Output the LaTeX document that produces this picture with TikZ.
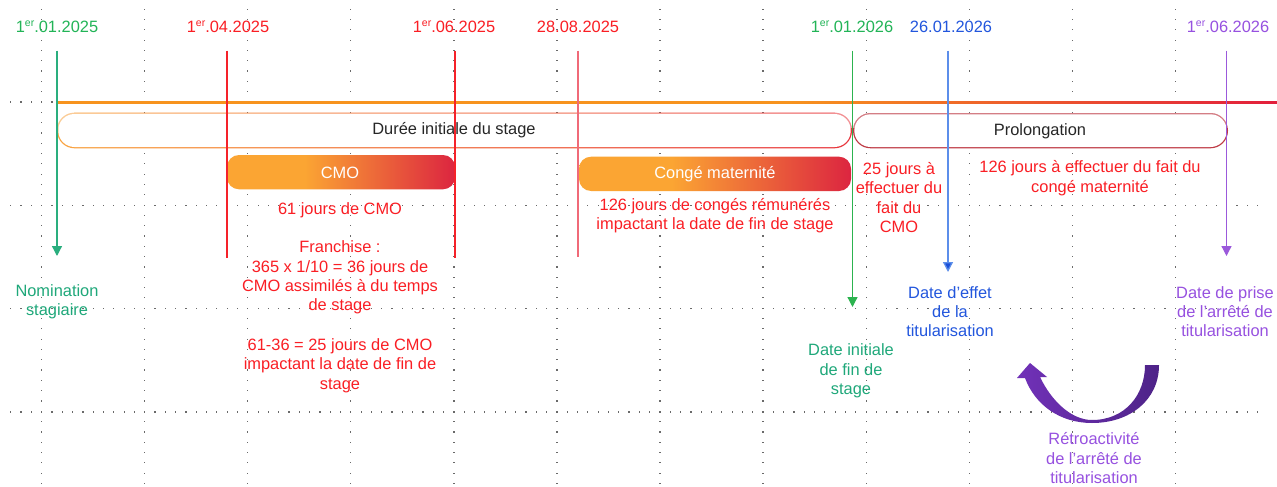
\documentclass[tikz,border=0pt]{standalone}
\usepackage{fontspec}
\setmainfont{Liberation Sans}
\usetikzlibrary{arrows.meta}
\definecolor{cGreen}{HTML}{22B457}
\definecolor{cGreenLn}{HTML}{2CB34F}
\definecolor{cTeal}{HTML}{1FA87A}
\definecolor{cTealLn}{HTML}{2AAE7E}
\definecolor{cRed}{HTML}{FA1E24}
\definecolor{cRedLn}{HTML}{F5222A}
\definecolor{cPinkLn}{HTML}{F06A78}
\definecolor{cBlue}{HTML}{2256DD}
\definecolor{cBlueLn}{HTML}{5C8EEA}
\definecolor{cBlueTip}{HTML}{1A4FD8}
\definecolor{cPurple}{HTML}{9751E0}
\definecolor{cPurpleLn}{HTML}{9B59DB}
\definecolor{barA}{HTML}{FBA533}
\definecolor{barB}{HTML}{DC2540}
\definecolor{lnA}{HTML}{F7931E}
\definecolor{lnB}{HTML}{E21E3C}
\definecolor{boxA}{HTML}{F9A441}
\definecolor{boxB}{HTML}{E8343C}
\definecolor{prolC}{HTML}{BE3A44}
\definecolor{arcA}{HTML}{7131B8}
\definecolor{arcB}{HTML}{4E2388}
\definecolor{dotC}{HTML}{6A6A6A}
\definecolor{txtDark}{HTML}{262626}
\pgfdeclarehorizontalshading{barshade}{100bp}{color(0bp)=(barA); color(25bp)=(barA); color(42bp)=(barA); color(75bp)=(barB); color(100bp)=(barB)}
\pgfdeclarehorizontalshading{lineshade}{100bp}{color(0bp)=(lnA); color(25bp)=(lnA); color(55bp)=(lnA); color(75bp)=(lnB); color(100bp)=(lnB)}
\pgfdeclarehorizontalshading{boxshade}{100bp}{color(0bp)=(boxA); color(25bp)=(boxA); color(75bp)=(boxB); color(100bp)=(boxB)}
\pgfdeclarehorizontalshading{arcshade}{100bp}{color(0bp)=(arcA); color(25bp)=(arcA); color(75bp)=(arcB); color(100bp)=(arcB)}
\newcommand{\ersup}{\raisebox{6.2pt}{\fontsize{10.5}{10.5}\selectfont er}}
\tikzset{
  txt/.style={inner sep=0pt, align=center, font=\fontsize{16.4}{19.4}\selectfont},
  rtxt/.style={txt, text=cRed},
  ttxt/.style={txt, text=cTeal},
  btxt/.style={txt, text=cBlue},
  ptxt/.style={txt, text=cPurple},
  datelbl/.style={txt, anchor=base},
  vline/.style={line width=1.3pt},
  tipd/.style={-{Triangle[width=10pt,length=10pt]}},
  bartxt/.style={txt, text=white},
}
\begin{document}
\begin{tikzpicture}[x=1pt,y=-1pt]
\useasboundingbox (0,0) rectangle (1277,487);
\fill[white] (0,0) rectangle (1277,487);
% dotted guide grid
\foreach \i in {0,...,11} {
  \foreach \j in {-9,...,37} {
    \fill[dotC] ({41.7+103.05*\i-0.6},{102+10.31*\j-0.6}) rectangle ++(1.2,1.2);
  }
}
\foreach \k in {1,2,3} {
  \foreach \m in {-3,...,118} {
    \fill[dotC] ({41.7+10.305*\m-0.6},{102+103.3*\k-0.6}) rectangle ++(1.2,1.2);
  }
}
\foreach \m in {-3,...,1} {
  \fill[dotC] ({41.7+10.305*\m-0.6},{102-0.6}) rectangle ++(1.2,1.2);
}
% main time line
\shade[shading=lineshade] (57,101) rectangle (1277,103);
% Duree initiale box
\shade[shading=boxshade, rounded corners=17.5pt] (57,112.7) rectangle (852,148.3);
\begin{scope}
  \clip[rounded corners=17.5pt] (57,112.7) rectangle (852,148.3);
  \fill[white, opacity=0.45] (57,112.7) rectangle (852,128);
\end{scope}
\fill[white, rounded corners=16.2pt] (58.3,114) rectangle (850.7,147);
\node[txt, text=txtDark] (duree) at (454,130.5) {Durée initiale du stage};
% Prolongation box
\fill[prolC, rounded corners=17.5pt] (853,113) rectangle (1228,148.3);
\begin{scope}
  \clip[rounded corners=17.5pt] (853,113) rectangle (1228,148.3);
  \fill[white, opacity=0.35] (853,113) rectangle (1228,128);
\end{scope}
\fill[white, rounded corners=16.2pt] (854.3,114.3) rectangle (1226.7,147);
\node[txt, text=txtDark] (prolong) at (1040,131) {Prolongation};
% bars
\shade[shading=barshade, rounded corners=12pt] (227,155) rectangle (455,189.3);
\node[bartxt] (cmo) at (340,172.5) {CMO};
\shade[shading=barshade, rounded corners=12pt] (579,156.7) rectangle (851,191);
\node[bartxt] (conge) at (715,174.5) {Congé maternité};
% vertical markers
\coordinate (a1) at (57,50.7);   \coordinate (b1) at (57,256);
\coordinate (a2) at (227,50.7);  \coordinate (b2) at (227,258);
\coordinate (a3) at (455,50.7);  \coordinate (b3) at (455,258);
\coordinate (a4) at (578,50.7);  \coordinate (b4) at (578,257);
\coordinate (a5) at (852.5,50.7);\coordinate (b5) at (852.5,307);
\coordinate (a6) at (948,50.7);  \coordinate (b6) at (948,272);
\coordinate (a7) at (1226.5,50.7); \coordinate (b7) at (1226.5,256);
\draw[vline, cTealLn, tipd] (a1) -- (b1);
\draw[vline, cRedLn] (a2) -- (b2);
\draw[vline, cRedLn] (a3) -- (b3);
\draw[vline, cPinkLn] (a4) -- (b4);
\draw[vline, cGreenLn, tipd] (a5) -- (b5);
\draw[vline, cBlueLn, -{Triangle[width=10pt,length=10pt,fill=cBlueTip]}] (a6) -- (b6);
\draw[vline, cPurpleLn, tipd] (a7) -- (b7);
% date labels
\node[datelbl, text=cGreen] (d1) at (57,32.6) {1\ersup.01.2025};
\node[datelbl, text=cRed] (d2) at (228,32.6) {1\ersup.04.2025};
\node[datelbl, text=cRed] (d3) at (454,32.6) {1\ersup.06.2025};
\node[datelbl, text=cRed] (d4) at (578,32.6) {28.08.2025};
\node[datelbl, text=cGreen] (d5) at (852,32.6) {1\ersup.01.2026};
\node[datelbl, text=cBlue] (d6) at (951,32.6) {26.01.2026};
\node[datelbl, text=cPurple] (d7) at (1228,32.6) {1\ersup.06.2026};
% red explanatory texts
\node[rtxt] (cmo61) at (340,210) {61 jours de CMO};
\node[rtxt] (franch) at (340,277.5) {Franchise :\\365 x 1/10 = 36 jours de\\CMO assimilés à du temps\\de stage};
\node[rtxt] (impact) at (340,365.5) {61-36 = 25 jours de CMO\\impactant la date de fin de\\stage};
\node[rtxt] (mat126) at (715,215.5) {126 jours de congés rémunérés\\impactant la date de fin de stage};
\node[rtxt] (j25) at (899,197.5) {25 jours à\\effectuer du\\fait du\\CMO};
\node[rtxt] (j126) at (1090,178) {126 jours à effectuer du fait du\\congé maternité};
% coloured captions
\node[ttxt] (nomin) at (57,301.7) {Nomination\\stagiaire};
\node[ttxt] (dinit) at (851,371) {Date initiale\\de fin de\\stage};
\node[btxt] (deffet) at (950,311.7) {Date d’effet\\de la\\titularisation};
\node[ptxt] (dprise) at (1225,311.7) {Date de prise\\de l’arrêté de\\titularisation};
\node[ptxt] (retro) at (1094,458.3) {Rétroactivité\\de l’arrêté de\\titularisation};
% curved retroactivity arrow
\shade[shading=arcshade]
  (1159,365) .. controls (1159,400) and (1130,423) .. (1092,423)
  .. controls (1060,423) and (1035,405) .. (1025,378)
  -- (1017,378) -- (1030,363) -- (1047,377) -- (1040,377)
  .. controls (1052,402) and (1072,420) .. (1092,420)
  .. controls (1125,420) and (1145,395) .. (1145,365) -- cycle;
\end{tikzpicture}
\end{document}
